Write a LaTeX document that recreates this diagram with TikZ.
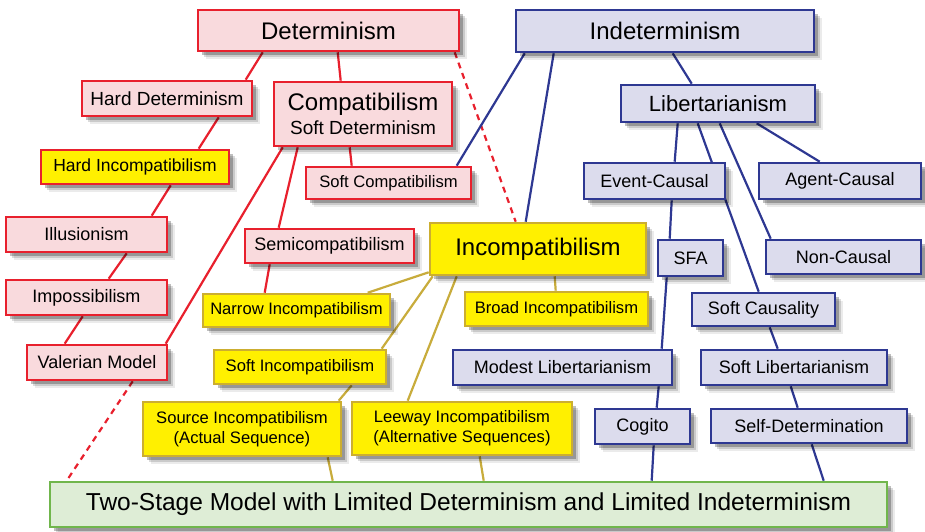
\documentclass[tikz,border=0pt]{standalone}
\usepackage{fontspec}
\setmainfont{Liberation Sans}
\usetikzlibrary{shadows,calc}
\pgfdeclarelayer{background}
\pgfsetlayers{background,main}
\definecolor{redB}{RGB}{232,32,45}
\definecolor{redF}{RGB}{249,218,221}
\definecolor{bluB}{RGB}{46,56,146}
\definecolor{bluF}{RGB}{220,220,237}
\definecolor{yelB}{RGB}{204,174,48}
\definecolor{yelF}{RGB}{255,240,0}
\definecolor{yelL}{RGB}{200,172,60}
\definecolor{grnB}{RGB}{112,182,76}
\definecolor{grnF}{RGB}{222,237,214}
\tikzset{
  base/.style={draw, line width=2.6pt, inner sep=0pt, align=center, text=black,
    general shadow={shadow xshift=8pt,shadow yshift=-8pt,fill=black,opacity=.08},
    general shadow={shadow xshift=6pt,shadow yshift=-6pt,fill=black,opacity=.14},
    general shadow={shadow xshift=4pt,shadow yshift=-4pt,fill=black,opacity=.25}},
  redbox/.style={base, draw=redB, fill=redF},
  blubox/.style={base, draw=bluB, fill=bluF},
  yelbox/.style={base, draw=yelB, fill=yelF},
  hibox/.style={base, draw=redB, fill=yelF},
  grnbox/.style={base, draw=grnB, fill=grnF},
  sz/.style 2 args={minimum width=#1pt, minimum height=#2pt},
  fXL/.style={font=\fontsize{24}{28}\selectfont},
  fL/.style={font=\fontsize{22}{26}\selectfont},
  fM/.style={font=\fontsize{19}{22}\selectfont},
  fN/.style={font=\fontsize{18}{21}\selectfont},
  fS/.style={font=\fontsize{16.6}{20}\selectfont},
  rl/.style={draw=redB, line width=2.2pt},
  rd/.style={draw=redB, line width=2.2pt, dash pattern=on 6pt off 5pt},
  bl/.style={draw=bluB, line width=2.2pt},
  gl/.style={draw=yelL, line width=2.2pt},
}
\begin{document}
\begin{tikzpicture}[x=1pt,y=-1pt]
\useasboundingbox (0,0) rectangle (925,532);
% Determinism side
\node[redbox, fXL, sz={261}{41}] (det) at (328.5,30.5) {Determinism};
\node[redbox, fM, sz={170}{35}] (hdet) at (167,98.5) {Hard Determinism};
\node[redbox, sz={178}{64}] (comp) at (363,114) {{\fontsize{24}{24}\selectfont Compatibilism}\\[4pt]{\fontsize{19}{19}\selectfont Soft Determinism}};
\node[hibox, font=\fontsize{17.5}{21}\selectfont, sz={188}{34}] (hinc) at (135,167) {Hard Incompatibilism};
\node[redbox, fS, sz={165}{32}] (scomp) at (388.5,183) {Soft Compatibilism};
\node[redbox, fN, sz={161}{35}] (ill) at (86.5,234.5) {Illusionism};
\node[redbox, fN, sz={169}{34}] (semi) at (329.5,246) {Semicompatibilism};
\node[redbox, fN, sz={161}{35}] (imp) at (86.5,297.5) {Impossibilism};
\node[redbox, fN, sz={140}{35}] (val) at (97,362.5) {Valerian Model};
% Indeterminism side
\node[blubox, fXL, sz={298}{42}] (indet) at (665,31) {Indeterminism};
\node[blubox, fL, sz={194}{37}] (lib) at (718,103.5) {Libertarianism};
\node[blubox, fN, sz={141}{36}] (ec) at (654.5,181) {Event-Causal};
\node[blubox, fN, sz={162}{36}] (ac) at (840,181) {Agent-Causal};
\node[blubox, fN, sz={65}{36}] (sfa) at (690.5,258) {SFA};
\node[blubox, fN, sz={155}{34}] (nc) at (843.5,257) {Non-Causal};
\node[blubox, fN, sz={143}{33}] (scaus) at (763.5,309.5) {Soft Causality};
\node[blubox, fN, sz={219}{35}] (modest) at (562.5,367.5) {Modest Libertarianism};
\node[blubox, fN, sz={186}{35}] (slib) at (794,367.5) {Soft Libertarianism};
\node[blubox, fN, sz={95}{35}] (cogito) at (642.5,426.5) {Cogito};
\node[blubox, fN, sz={196}{34}] (selfdet) at (809,426) {Self-Determination};
% Incompatibilism
\node[yelbox, fXL, sz={216}{52}] (inc) at (538,249) {Incompatibilism};
\node[yelbox, fS, sz={187}{33}] (narrow) at (296.5,310.5) {Narrow Incompatibilism};
\node[yelbox, fS, sz={183}{34}] (broad) at (556.5,309) {Broad Incompatibilism};
\node[yelbox, fS, sz={172}{34}] (sinc) at (300,367) {Soft Incompatibilism};
\node[yelbox, fS, sz={198}{54}] (source) at (242,429) {Source Incompatibilism\\[0pt](Actual Sequence)};
\node[yelbox, fS, sz={220}{53}] (leeway) at (462,428.5) {Leeway Incompatibilism\\[0pt](Alternative Sequences)};
% Two-stage
\node[grnbox, font=\fontsize{24.5}{28}\selectfont, sz={837}{45}] (two) at (468.5,504.5) {Two-Stage Model with Limited Determinism and Limited Indeterminism};

\begin{pgfonlayer}{background}
% red
\draw[rl] ([xshift=66pt]det.south west) -- ([xshift=165pt]hdet.north west);
\draw[rl] ([xshift=141pt]det.south west) -- ([xshift=68pt]comp.north west);
\draw[rl] ([xshift=138pt]hdet.south west) -- ([xshift=159pt]hinc.north west);
\draw[rl] ([xshift=131pt]hinc.south west) -- ([xshift=147pt]ill.north west);
\draw[rl] ([xshift=122pt]ill.south west) -- ([xshift=104pt]imp.north west);
\draw[rl] ([xshift=78pt]imp.south west) -- ([xshift=39pt]val.north west);
\draw[rl] ([xshift=10pt]comp.south west) -- ([xshift=140pt]val.north west);
\draw[rl] ([xshift=25pt]comp.south west) -- ([xshift=35pt]semi.north west);
\draw[rl] ([xshift=77pt]comp.south west) -- ([xshift=47pt]scomp.north west);
\draw[rl] ([xshift=26pt]semi.south west) -- ([xshift=63pt]narrow.north west);
\draw[rd] ([xshift=258pt]det.south west) -- ([xshift=87pt]inc.north west);
\draw[rd] ([xshift=107pt]val.south west) -- ([xshift=18pt]two.north west);
% blue
\draw[bl] ([xshift=10pt]indet.south west) -- ([xshift=152pt]scomp.north west);
\draw[bl] ([xshift=39pt]indet.south west) -- ([xshift=97pt]inc.north west);
\draw[bl] ([xshift=158pt]indet.south west) -- ([xshift=72pt]lib.north west);
\draw[bl] ([xshift=58pt]lib.south west) -- ([xshift=92pt]ec.north west);
\draw[bl] ([xshift=78pt]lib.south west) -- ([xshift=68pt]scaus.north west);
\draw[bl] ([xshift=100pt]lib.south west) -- ([xshift=6pt]nc.north west);
\draw[bl] ([xshift=137pt]lib.south west) -- ([xshift=62pt]ac.north west);
\draw[bl] ([xshift=89pt]ec.south west) -- ([xshift=13pt]sfa.north west);
\draw[bl] ([xshift=10pt]sfa.south west) -- ([xshift=210pt]modest.north west);
\draw[bl] ([xshift=79pt]scaus.south west) -- ([xshift=78pt]slib.north west);
\draw[bl] ([xshift=207pt]modest.south west) -- ([xshift=63pt]cogito.north west);
\draw[bl] ([xshift=91pt]slib.south west) -- ([xshift=88pt]selfdet.north west);
\draw[bl] ([xshift=60pt]cogito.south west) -- ([xshift=603pt]two.north west);
\draw[bl] ([xshift=102pt]selfdet.south west) -- ([xshift=775pt]two.north west);
% gold
\draw[gl] ([yshift=4pt]inc.south west) -- ([xshift=166pt]narrow.north west);
\draw[gl] ([xshift=4pt]inc.south west) -- ([xshift=169pt]sinc.north west);
\draw[gl] ([xshift=28pt]inc.south west) -- ([xshift=57pt]leeway.north west);
\draw[gl] ([xshift=126pt]inc.south west) -- ([xshift=92pt]broad.north west);
\draw[gl] ([xshift=139pt]sinc.south west) -- ([xshift=197pt]source.north west);
\draw[gl] ([xshift=186pt]source.south west) -- ([xshift=284pt]two.north west);
\draw[gl] ([xshift=129pt]leeway.south west) -- ([xshift=435pt]two.north west);
\end{pgfonlayer}
\end{tikzpicture}
\end{document}
